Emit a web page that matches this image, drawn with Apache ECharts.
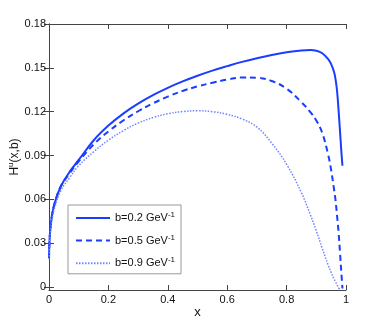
<!DOCTYPE html>
<html>
<head>
<meta charset="utf-8">
<script src="https://cdn.jsdelivr.net/npm/echarts@6/dist/echarts.min.js"></script>
<style>
  html, body { margin: 0; padding: 0; background: #fff; }
  #chart { width: 382px; height: 327px; }
</style>
</head>
<body>
<div id="chart"></div>
<script>
  // x grid shared by the three curves
  const xGrid = [0, 0.003, 0.01, 0.02, 0.04, 0.07, 0.1, 0.15, 0.2, 0.25, 0.3, 0.35, 0.4, 0.45, 0.5,
    0.55, 0.6, 0.65, 0.7, 0.75, 0.8, 0.85, 0.88, 0.9, 0.92, 0.94, 0.95, 0.96, 0.965, 0.97, 0.975,
    0.98, 0.985, 0.988]
  // b = 0.2 GeV^-1
  const hB02 = [0.020, 0.036, 0.049, 0.058, 0.069, 0.079, 0.087, 0.1003, 0.1105, 0.1187, 0.1255, 0.1313,
    0.1363, 0.1407, 0.1446, 0.1481, 0.1512, 0.1541, 0.1566, 0.1588, 0.1606, 0.1619, 0.1622, 0.1617,
    0.1600, 0.1560, 0.1525, 0.147, 0.142, 0.134, 0.121, 0.106, 0.091, 0.083]
  // b = 0.5 GeV^-1
  const hB05 = [0.020, 0.036, 0.049, 0.058, 0.069, 0.078, 0.086, 0.0975, 0.1065, 0.1140, 0.1203, 0.1257,
    0.1303, 0.1342, 0.1373, 0.1398, 0.1420, 0.1434, 0.1432, 0.1410, 0.1357, 0.1265, 0.1197, 0.1140,
    0.1055, 0.0905, 0.0800, 0.0665, 0.0590, 0.0485, 0.0375, 0.0230, 0.0080, -0.001]
  // b = 0.9 GeV^-1
  const hB09 = [0.019, 0.034, 0.046, 0.055, 0.066, 0.075, 0.083, 0.0925, 0.1005, 0.1070, 0.1122, 0.1160,
    0.1186, 0.1201, 0.1206, 0.1200, 0.1182, 0.1150, 0.1095, 0.0985, 0.0840, 0.0645, 0.0495, 0.0385,
    0.0265, 0.0150, 0.0100, 0.0055, 0.0035, 0.0015, -0.0005, -0.0015, null, null]

  const legendNames = ['b=0.2 GeV', 'b=0.5 GeV', 'b=0.9 GeV']
  const yTicks = [0, 0.03, 0.06, 0.09, 0.12, 0.15, 0.18]

  const pairs = (ys) => xGrid.map((x, i) => [x, ys[i]]).filter((p) => p[1] !== null)

  const chart = echarts.init(document.getElementById('chart'))
  const font = 'Liberation Sans, Arial, sans-serif'
  const axisColor = '#444'

  const yBase = {
    type: 'value',
    min: -0.002,
    max: 0.18,
    splitLine: { show: false },
    axisLine: { show: true, lineStyle: { color: axisColor } },
    axisTick: { show: true, inside: true, length: 5, customValues: yTicks, lineStyle: { color: axisColor } }
  }
  const xBase = {
    type: 'value',
    min: 0,
    max: 1,
    interval: 0.2,
    splitLine: { show: false },
    axisLine: { show: true, onZero: false, lineStyle: { color: axisColor } },
    axisTick: { show: true, inside: true, length: 5, lineStyle: { color: axisColor } }
  }

  const option = {
    animation: false,
    textStyle: { fontFamily: font },
    grid: { left: 49, right: 36, top: 24, bottom: 37, outerBoundsMode: 'none', containLabel: false },
    xAxis: [
      Object.assign({}, xBase, {
        position: 'bottom',
        name: 'x',
        nameLocation: 'middle',
        nameGap: 16,
        nameMoveOverlap: false,
        nameTextStyle: { fontSize: 13, color: '#111', fontFamily: font },
        axisLabel: { fontSize: 11, color: '#111', margin: 4, fontFamily: font }
      }),
      Object.assign({}, xBase, { position: 'top', axisLabel: { show: false } })
    ],
    yAxis: [
      Object.assign({}, yBase, {
        position: 'left',
        name: '{t|H}{s|u}{t|(x,b)}',
        nameLocation: 'middle',
        nameRotate: 90,
        nameGap: 27,
        nameMoveOverlap: false,
        nameTextStyle: {
          color: '#111',
          rich: {
            t: { fontSize: 12, fontFamily: font, color: '#111', lineHeight: 15 },
            s: { fontSize: 8, fontFamily: font, color: '#111', verticalAlign: 'top', lineHeight: 15 }
          }
        },
        axisLabel: {
          fontSize: 11, color: '#111', margin: 3, fontFamily: font,
          customValues: yTicks,
          formatter: (v) => (v === 0 ? '0' : v.toFixed(2))
        }
      }),
      Object.assign({}, yBase, { position: 'right', axisLabel: { show: false } })
    ],
    legend: {
      orient: 'vertical',
      left: 68,
      top: 205,
      padding: [6, 6, 5, 7],
      itemGap: 10,
      itemWidth: 34,
      itemHeight: 14,
      backgroundColor: '#fff',
      borderColor: '#999',
      borderWidth: 1,
      borderRadius: 0,
      itemStyle: { opacity: 0 },
      data: legendNames,
      formatter: (name) => '{n|' + name + '}{s|-1}',
      textStyle: {
        rich: {
          n: { fontSize: 11, fontFamily: font, color: '#111', lineHeight: 14 },
          s: { fontSize: 8, fontFamily: font, color: '#111', verticalAlign: 'top', lineHeight: 14 }
        }
      }
    },
    series: [
      {
        name: legendNames[0],
        type: 'line',
        symbol: 'none',
        smooth: 0.4,
        data: pairs(hB02),
        lineStyle: { color: '#1a3dff', width: 2, type: 'solid' },
        itemStyle: { color: '#1a3dff' }
      },
      {
        name: legendNames[1],
        type: 'line',
        symbol: 'none',
        smooth: 0.4,
        data: pairs(hB05),
        lineStyle: { color: '#1a3dff', width: 2, type: [6, 4] },
        itemStyle: { color: '#1a3dff' }
      },
      {
        name: legendNames[2],
        type: 'line',
        symbol: 'none',
        smooth: 0.4,
        data: pairs(hB09),
        lineStyle: { color: '#6f86ff', width: 1.5, type: [1.5, 1.5] },
        itemStyle: { color: '#6f86ff' }
      }
    ]
  }
  chart.setOption(option)
</script>
</body>
</html>
